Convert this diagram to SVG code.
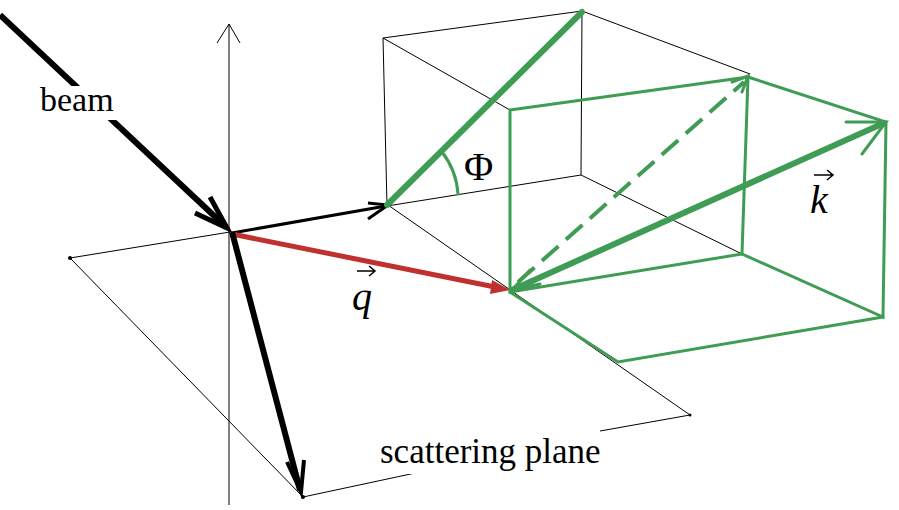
<svg xmlns="http://www.w3.org/2000/svg" width="899" height="510" viewBox="0 0 899 510">
<style>
.thin{stroke:#000;stroke-width:1;fill:none}
.g{stroke:#3f9c55;stroke-width:3;fill:none;stroke-linecap:round}
.gt{stroke:#3f9c55;stroke-width:6;fill:none;stroke-linecap:round}
.lbl{font-family:"Liberation Serif",serif;fill:#000}
</style>
<rect width="899" height="510" fill="#fff"/>
<g id="axes">
<line class="thin" x1="229" y1="24" x2="229" y2="505"/>
<polyline class="thin" points="217,43 229,24 240,43"/>
</g>
<g id="plane">
<polyline class="thin" points="230,232 70,258 303,497 420,472"/>
<polyline class="thin" points="600,431 690,415 388,205"/>
<circle cx="70" cy="258" r="2"/><circle cx="303" cy="497" r="2"/><circle cx="690" cy="415" r="1.5"/>
</g>
<g id="backcube">
<polyline class="thin" points="582,11 383,38 387,206 581,175 582,11 750,74"/>
<line class="thin" x1="383" y1="38" x2="510" y2="110"/>
<line class="thin" x1="581" y1="175" x2="742" y2="254"/>
</g>
<g id="greencube">
<polygon class="g" points="510,110 748,77 742,254 510,292"/>
<polyline class="g" points="748,77 886,122 883,317 742,254"/>
<polyline class="g" points="510,292 618,362 883,317"/>
<line x1="518" y1="282" x2="744" y2="82" stroke="#3f9c55" stroke-width="4" stroke-dasharray="22,10"/>
<polyline class="g" points="732,82 748,76 742,92"/>
</g>
<g id="connectors">
<line x1="0" y1="15" x2="226" y2="227" stroke="#000" stroke-width="6"/>
<polyline points="210,197 227,228 195,213" stroke="#000" stroke-width="5" fill="none"/>
<line x1="232" y1="233" x2="386" y2="206" stroke="#000" stroke-width="3"/>
<polyline points="368,203 388,205 368,219" stroke="#000" stroke-width="3" fill="none"/>
<line x1="232" y1="234" x2="495" y2="287" stroke="#c0302e" stroke-width="5"/>
<polygon points="510,290 492,280 490,294" fill="#c0302e"/>
<line x1="232" y1="232" x2="300" y2="490" stroke="#000" stroke-width="6"/>
<polyline points="287,462 301,492 304,460" stroke="#000" stroke-width="4" fill="none"/>
<line class="gt" x1="387" y1="205" x2="582" y2="12"/>
<path class="g" d="M442,152 A76,76 0 0 1 458,194"/>
<line class="gt" x1="512" y1="290" x2="884" y2="123"/>
<polyline class="g" points="846,122 886,122 862,154" stroke-width="4"/>
<polyline class="g" points="530,270 512,290 540,284" stroke-width="4"/>
</g>
<g id="labels">
<rect x="36" y="86" width="82" height="34" fill="#fff"/>
<text class="lbl" x="40" y="111" font-size="34">beam</text>
<text class="lbl" x="464" y="180" font-size="40">Φ</text>
<text class="lbl" x="352" y="310" font-size="40" font-style="italic">q</text>
<path d="M357,271 H374 M369,266 L375,271 L369,276" stroke="#000" stroke-width="1.5" fill="none"/>
<text class="lbl" x="810" y="213" font-size="40" font-style="italic">k</text>
<path d="M814,175 H832 M827,170 L833,175 L827,180" stroke="#000" stroke-width="1.5" fill="none"/>
<rect x="376" y="434" width="230" height="40" fill="#fff"/>
<text class="lbl" x="380" y="463" font-size="35">scattering plane</text>
</g>
</svg>
